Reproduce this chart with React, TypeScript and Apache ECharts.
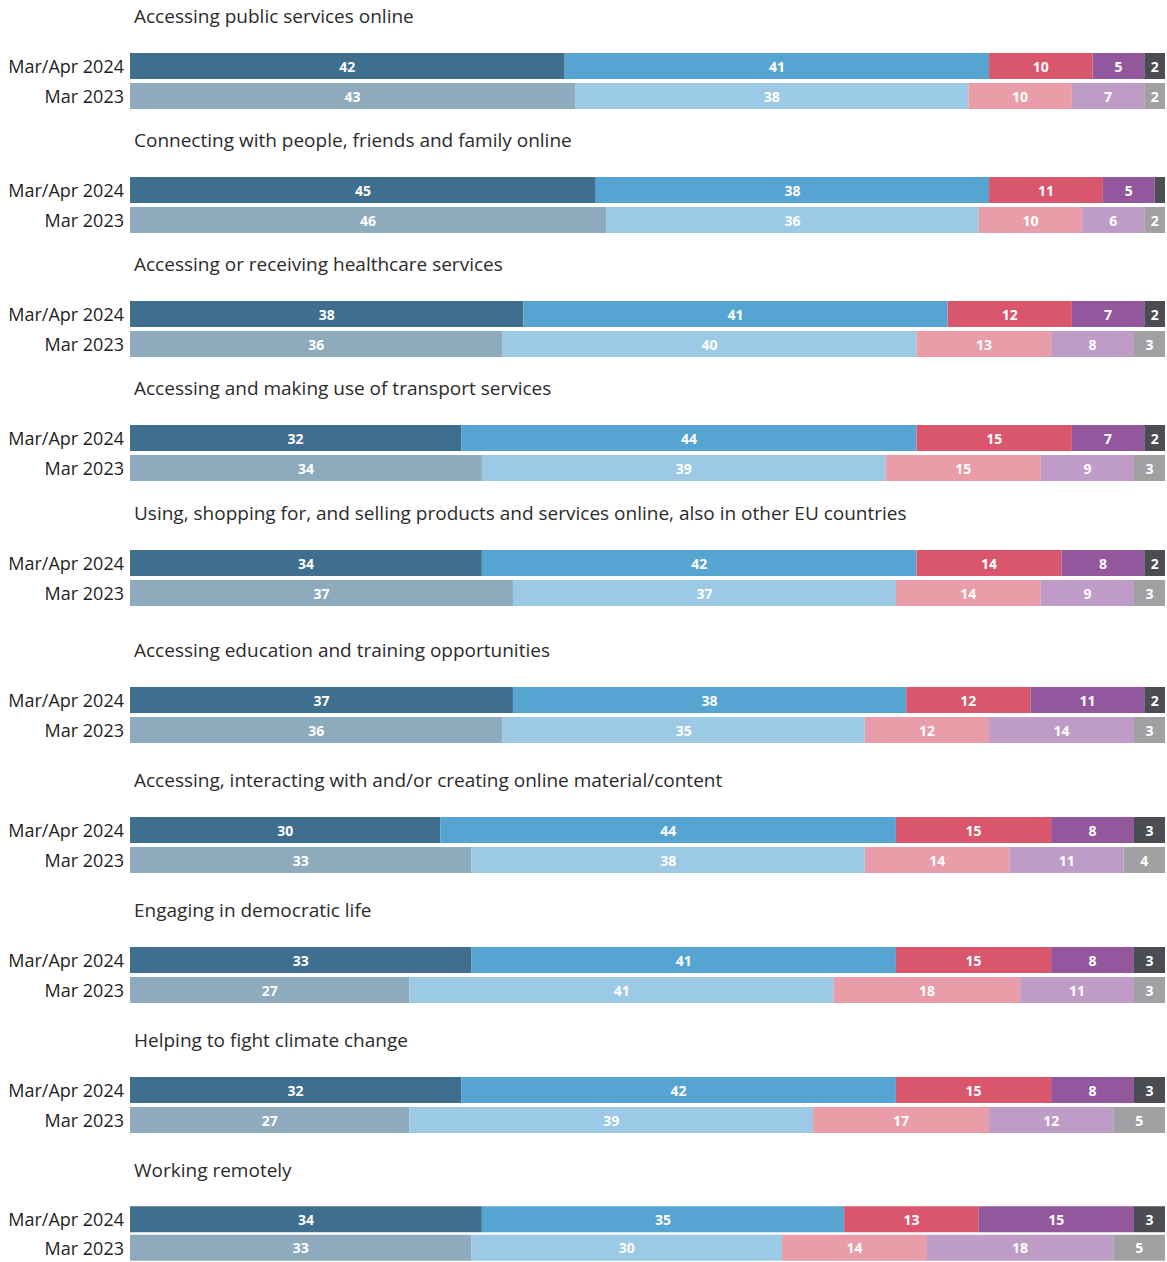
import React, { useEffect, useRef } from "react";
import * as echarts from "echarts";

const topics = [
  "Accessing public services online",
  "Connecting with people, friends and family online",
  "Accessing or receiving healthcare services",
  "Accessing and making use of transport services",
  "Using, shopping for, and selling products and services online, also in other EU countries",
  "Accessing education and training opportunities",
  "Accessing, interacting with and/or creating online material/content",
  "Engaging in democratic life",
  "Helping to fight climate change",
  "Working remotely",
];

const periods = ["Mar/Apr 2024", "Mar 2023"];

// Share of answers per topic, Mar/Apr 2024
const veryPositive2024 = [42, 45, 38, 32, 34, 37, 30, 33, 32, 34];
const fairlyPositive2024 = [41, 38, 41, 44, 42, 38, 44, 41, 42, 35];
const fairlyNegative2024 = [10, 11, 12, 15, 14, 12, 15, 15, 15, 13];
const veryNegative2024 = [5, 5, 7, 7, 8, 11, 8, 8, 8, 15];
const dontKnow2024 = [2, 1, 2, 2, 2, 2, 3, 3, 3, 3];

// Share of answers per topic, Mar 2023
const veryPositive2023 = [43, 46, 36, 34, 37, 36, 33, 27, 27, 33];
const fairlyPositive2023 = [38, 36, 40, 39, 37, 35, 38, 41, 39, 30];
const fairlyNegative2023 = [10, 10, 13, 15, 14, 12, 14, 18, 17, 14];
const veryNegative2023 = [7, 6, 8, 9, 9, 14, 11, 11, 12, 18];
const dontKnow2023 = [2, 2, 3, 3, 3, 3, 4, 3, 5, 5];

const colors2024 = ["#3e6f8e", "#56a4d1", "#d9566d", "#93579d", "#4c4d52"];
const colors2023 = ["#8eabbd", "#9ccae6", "#e89da8", "#bf9bc8", "#a1a1a3"];

// vertical centre of each topic's first bar
const rowCentres = [66, 190, 314, 438, 563, 700, 830, 960, 1090, 1220];

const segments2024 = [veryPositive2024, fairlyPositive2024, fairlyNegative2024, veryNegative2024, dontKnow2024];
const segments2023 = [veryPositive2023, fairlyPositive2023, fairlyNegative2023, veryNegative2023, dontKnow2023];

export default function App() {
  const ref = useRef<HTMLDivElement>(null);

  useEffect(() => {
    if (!ref.current) return;
    const chart = echarts.init(ref.current, null, { renderer: "svg" });

    const grid: any[] = [];
    const xAxis: any[] = [];
    const yAxis: any[] = [];
    const series: any[] = [];
    const graphic: any[] = [];

    topics.forEach((topic, i) => {
      const c = rowCentres[i];
      grid.push({ left: 130, right: 2, top: c - 15, height: 60 });
      xAxis.push({
        gridIndex: i,
        type: "value",
        min: 0,
        max: 100,
        show: false,
      });
      yAxis.push({
        gridIndex: i,
        type: "category",
        inverse: true,
        data: periods,
        axisLine: { show: false },
        axisTick: { show: false },
        axisLabel: {
          margin: 6,
          fontFamily: "Open Sans",
          fontSize: 18,
          color: "#1e1e1e",
        },
      });
      for (let s = 0; s < 5; s++) {
        series.push({
          type: "bar",
          xAxisIndex: i,
          yAxisIndex: i,
          stack: "topic" + i,
          barWidth: 26,
          data: [
            { value: segments2024[s][i], itemStyle: { color: colors2024[s] } },
            { value: segments2023[s][i], itemStyle: { color: colors2023[s] } },
          ],
          label: {
            show: true,
            position: "inside",
            color: "#ffffff",
            fontFamily: "Open Sans",
            fontWeight: "bold",
            fontSize: 14,
            formatter: (p: any) => (p.value >= 2 ? String(p.value) : ""),
          },
        });
      }
      graphic.push({
        type: "text",
        left: 134,
        top: c - 60,
        style: {
          text: topic,
          fontFamily: "Open Sans",
          fontSize: 19,
          fill: "#2b2b2b",
        },
      });
    });

    chart.setOption({
      animation: false,
      backgroundColor: "#ffffff",
      grid,
      xAxis,
      yAxis,
      series,
      graphic,
    });

    return () => chart.dispose();
  }, []);

  return (
    <div
      ref={ref}
      style={{ position: "absolute", left: 0, top: 0, width: 1167, height: 1262 }}
    />
  );
}
